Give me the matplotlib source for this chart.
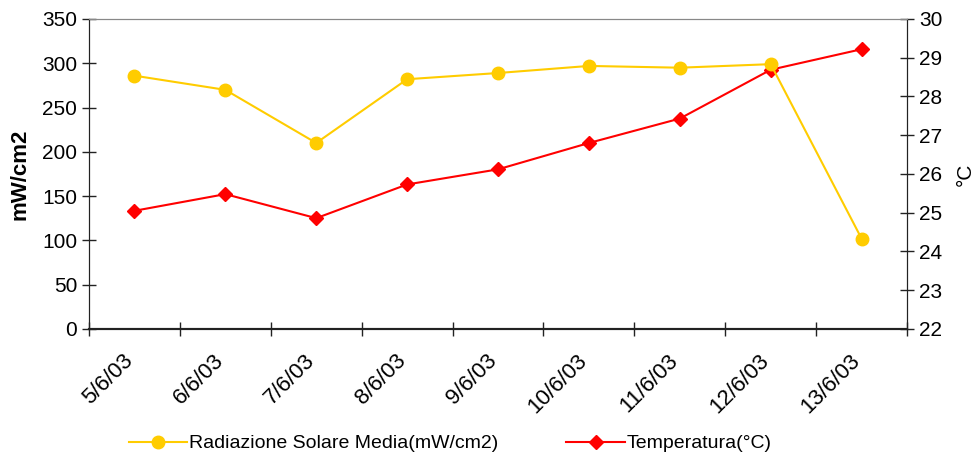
#!/usr/bin/env python3
"""Radiazione solare media e temperatura, 5/6/03 - 13/6/03."""

import matplotlib
matplotlib.use("Agg")
import matplotlib.pyplot as plt
from matplotlib.transforms import ScaledTranslation

plt.rcParams["font.family"] = ["Liberation Sans", "DejaVu Sans"]

DATES = ["5/6/03", "6/6/03", "7/6/03", "8/6/03", "9/6/03",
         "10/6/03", "11/6/03", "12/6/03", "13/6/03"]
RADIAZIONE = [286, 270, 210, 282, 289, 297, 295, 299, 102]
TEMPERATURA = [25.05, 25.48, 24.86, 25.73, 26.12, 26.80, 27.43, 28.69, 29.22]

YELLOW = "#FFCC00"
RED = "#FF0000"
FS = 15


def main():
    fig = plt.figure(figsize=(9.79, 4.62), dpi=100)
    ax = fig.add_axes([0.0909, 0.2879, 0.8356, 0.671])
    ax2 = ax.twinx()

    x = list(range(len(DATES)))
    l1, = ax.plot(x, RADIAZIONE, color=YELLOW, linewidth=1.5, marker="o",
                  markersize=9, label="Radiazione Solare Media(mW/cm2)", zorder=3)
    l2, = ax2.plot(x, TEMPERATURA, color=RED, linewidth=1.5, marker="D",
                   markersize=7, label="Temperatura(°C)", zorder=3)

    ax.set_xlim(-0.5, len(DATES) - 0.5)
    ax.set_ylim(0, 350)
    ax.set_yticks(range(0, 351, 50))
    ax2.set_ylim(22, 30)
    ax2.set_yticks(range(22, 31))

    ax.set_xticks(x)
    ax.set_xticklabels(DATES, rotation=45, ha="right", rotation_mode="anchor", fontsize=16)
    ax.set_xticks([i - 0.5 for i in range(len(DATES) + 1)], minor=True)
    ax.tick_params(axis="x", which="major", length=0, pad=15)
    ax.tick_params(axis="x", which="minor", length=10, direction="inout", width=1, color="#222222")
    ax.tick_params(axis="y", direction="inout", length=10, width=1, labelsize=FS, color="#222222")
    ax2.tick_params(axis="y", direction="inout", length=10, width=1, labelsize=FS, color="#222222")

    # shift the date labels a bit left, as in the original
    offset = ScaledTranslation(-12 / 100, 0, fig.dpi_scale_trans)
    for lab in ax.get_xticklabels():
        lab.set_transform(lab.get_transform() + offset)

    ax.set_ylabel("mW/cm2", fontsize=16, fontweight="bold", labelpad=8)
    ax2.set_ylabel("°C", fontsize=FS, labelpad=10)

    for a in (ax, ax2):
        a.spines["top"].set_color("#888888")
        a.spines["left"].set_color("#222222")
        a.spines["right"].set_color("#222222")
        a.spines["bottom"].set_color("#222222")
        a.spines["bottom"].set_linewidth(1.5)

    ax.set_zorder(ax2.get_zorder() + 1)
    ax.patch.set_visible(False)

    fig.legend([l1, l2], [l1.get_label(), l2.get_label()], loc="center",
               bbox_to_anchor=(0.46, 0.04), ncol=2, frameon=False, fontsize=14,
               handlelength=3.0, handletextpad=0.1, columnspacing=3.5)

    fig.savefig("out.png", dpi=100)
    plt.close(fig)


if __name__ == "__main__":
    main()
